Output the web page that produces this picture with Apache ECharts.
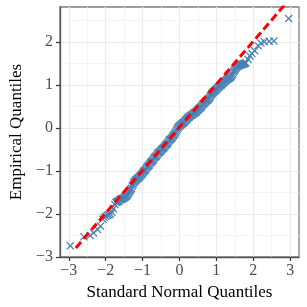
<!DOCTYPE html>
<html><head><meta charset="utf-8">
<script src="https://cdn.jsdelivr.net/npm/echarts@6/dist/echarts.min.js"></script>
<style>html,body{margin:0;padding:0;background:#fff}#c{width:307px;height:307px}</style>
</head><body><div id="c"></div>
<script>
// Standard normal (theoretical) quantiles
const theoretical = [
-2.96,-2.59,-2.42,-2.33,-2.22,-2.14,-2.08,-2.04,-1.99,-1.95,-1.91,-1.87,-1.83,-1.79,-1.75,-1.72,
-1.70,-1.68,-1.66,-1.64,-1.62,-1.60,-1.58,-1.56,-1.54,-1.52,-1.50,-1.48,-1.46,-1.44,-1.42,-1.40,-1.38,-1.36,-1.34,-1.32,
-1.30,-1.28,-1.26,-1.24,-1.22,-1.20,-1.18,-1.16,-1.14,-1.12,-1.10,-1.08,-1.06,-1.04,-1.02,-1.00,-0.98,-0.96,-0.94,-0.92,
-0.90,-0.88,-0.86,-0.84,-0.82,-0.80,-0.78,-0.76,-0.74,-0.72,-0.70,-0.68,-0.66,-0.64,-0.62,-0.60,-0.58,-0.56,-0.54,-0.52,
-0.50,-0.48,-0.46,-0.44,-0.42,-0.40,-0.38,-0.36,-0.34,-0.32,-0.30,-0.28,-0.26,-0.24,-0.22,-0.20,-0.18,-0.16,-0.14,-0.12,
-0.10,-0.08,-0.06,-0.04,-0.02,0.00,0.02,0.04,0.06,0.08,0.10,0.12,0.14,0.16,0.18,0.20,0.22,0.24,0.26,0.28,
0.30,0.32,0.34,0.36,0.38,0.40,0.42,0.44,0.46,0.48,0.50,0.52,0.54,0.56,0.58,0.60,0.62,0.64,0.66,0.68,
0.70,0.72,0.74,0.76,0.78,0.80,0.82,0.84,0.86,0.88,0.90,0.92,0.94,0.96,0.98,1.00,1.02,1.04,1.06,1.08,
1.10,1.12,1.14,1.16,1.18,1.20,1.22,1.24,1.26,1.28,1.30,1.32,1.34,1.36,1.38,1.40,1.42,1.44,1.46,1.48,
1.50,1.52,1.54,1.56,1.58,1.60,1.62,1.64,1.66,1.68,1.70,1.72,1.74,1.76,1.78,1.80,
1.86,1.91,1.96,2.04,2.13,2.21,2.30,2.43,2.56,2.96
];
// Empirical quantiles
const empirical = [
-2.74,-2.53,-2.50,-2.44,-2.36,-2.28,-2.12,-2.08,-2.05,-2.03,-2.02,-2.00,-1.96,-1.88,-1.78,-1.73,
-1.72,-1.71,-1.70,-1.70,-1.67,-1.66,-1.66,-1.65,-1.64,-1.63,-1.62,-1.61,-1.60,-1.58,-1.57,-1.54,-1.51,-1.48,-1.45,-1.43,
-1.40,-1.35,-1.31,-1.27,-1.25,-1.23,-1.21,-1.19,-1.18,-1.16,-1.15,-1.13,-1.11,-1.09,-1.07,-1.05,-1.02,-1.00,-0.99,-0.97,
-0.94,-0.91,-0.89,-0.88,-0.86,-0.83,-0.80,-0.78,-0.77,-0.75,-0.72,-0.69,-0.67,-0.66,-0.64,-0.61,-0.58,-0.57,-0.56,-0.54,
-0.52,-0.50,-0.48,-0.47,-0.45,-0.43,-0.40,-0.38,-0.37,-0.35,-0.32,-0.29,-0.27,-0.26,-0.24,-0.22,-0.19,-0.17,-0.15,-0.12,
-0.09,-0.05,-0.02,0.01,0.03,0.05,0.06,0.08,0.09,0.11,0.12,0.13,0.15,0.17,0.19,0.21,0.23,0.25,0.26,0.27,
0.29,0.30,0.31,0.32,0.34,0.35,0.36,0.37,0.39,0.41,0.42,0.44,0.46,0.47,0.49,0.51,0.54,0.56,0.57,0.59,
0.61,0.63,0.64,0.65,0.67,0.69,0.72,0.75,0.78,0.80,0.82,0.84,0.85,0.87,0.88,0.90,0.92,0.94,0.96,0.97,
0.99,1.00,1.01,1.03,1.05,1.06,1.08,1.10,1.11,1.13,1.14,1.15,1.16,1.17,1.19,1.20,1.23,1.26,1.30,1.33,
1.36,1.39,1.41,1.43,1.44,1.45,1.46,1.47,1.47,1.48,1.48,1.49,1.50,1.50,1.51,1.52,
1.60,1.68,1.74,1.80,1.92,1.98,2.01,2.02,2.03,2.55
];
// Reference (qq) line end points
const lineX = [-2.81, 2.84];
const lineY = [-2.79, 2.86];
// Tick labels and grid positions
const xTicks = [-3, -2, -1, 0, 1, 2, 3];
const yTicks = [-3, -2, -1, 0, 1, 2];
const xMinor = [-2.5, -1.5, -0.5, 0.5, 1.5, 2.5];
const yMinor = [-2.5, -1.5, -0.5, 0.5, 1.5, 2.5];

const pts = theoretical.map((x, i) => [x, empirical[i]]);
const linePts = lineX.map((x, i) => [x, lineY[i]]);
const serif = '"Liberation Serif", "DejaVu Serif", serif';
const fmt = v => String(v).replace('-', '\u2212');
const major = {color: '#ebebeb', width: 1.2, type: 'solid'};
const minor = {color: '#f2f2f2', width: 0.8, type: 'solid'};
const gridLines = [].concat(
  xTicks.map(v => ({xAxis: v, lineStyle: major})),
  xMinor.map(v => ({xAxis: v, lineStyle: minor})),
  yTicks.map(v => ({yAxis: v, lineStyle: major})),
  yMinor.map(v => ({yAxis: v, lineStyle: minor}))
);
const xMark = 'path://M0,1.1L1.1,0L5,3.9L8.9,0L10,1.1L6.1,5L10,8.9L8.9,10L5,6.1L1.1,10L0,8.9L3.9,5Z';

const chart = echarts.init(document.getElementById('c'), null, {renderer: 'canvas'});
chart.setOption({
  animation: false,
  backgroundColor: '#fff',
  grid: {left: 52, top: 7, right: 8, bottom: 50, show: true, borderColor: '#7f7f7f', borderWidth: 1.3, backgroundColor: 'transparent'},
  xAxis: {
    type: 'value', min: -3.24, max: 3.24,
    axisLine: {show: true, onZero: false, lineStyle: {color: '#555', width: 1.3}},
    axisTick: {show: true, customValues: xTicks, length: 4, lineStyle: {color: '#333', width: 1.2}},
    axisLabel: {customValues: xTicks, formatter: fmt, fontFamily: serif, fontSize: 16, color: '#4d4d4d', margin: 6},
    splitLine: {show: false},
    name: 'Standard Normal Quantiles', nameLocation: 'middle', nameGap: 25,
    nameTextStyle: {fontFamily: serif, fontSize: 17, color: '#000'}
  },
  yAxis: {
    type: 'value', min: -3, max: 2.82,
    axisLine: {show: true, onZero: false, lineStyle: {color: '#555', width: 1.3}},
    axisTick: {show: true, customValues: yTicks, length: 4, lineStyle: {color: '#333', width: 1.2}},
    axisLabel: {customValues: yTicks, formatter: fmt, fontFamily: serif, fontSize: 16, color: '#4d4d4d', margin: 7},
    splitLine: {show: false},
    name: 'Empirical Quantiles', nameLocation: 'middle', nameGap: 29,
    nameTextStyle: {fontFamily: serif, fontSize: 17, color: '#000'}
  },
  series: [
    {
      type: 'scatter', data: pts, symbol: xMark, symbolSize: 8, z: 2,
      itemStyle: {color: '#4682B4', opacity: 1},
      silent: true,
      markLine: {silent: true, z: 0, symbol: ['none', 'none'], label: {show: false}, animation: false, data: gridLines}
    },
    {
      type: 'line', data: linePts, symbol: 'none', z: 3, clip: true,
      lineStyle: {color: '#ff0000', width: 3, type: [8, 4]}
    }
  ]
});
</script></body></html>
